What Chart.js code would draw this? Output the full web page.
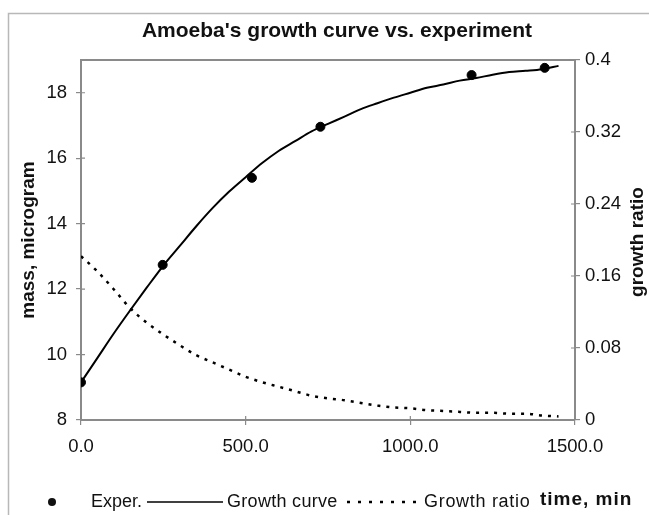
<!DOCTYPE html>
<html>
<head>
<meta charset="utf-8">
<title>Amoeba's growth curve vs. experiment</title>
<script src="https://cdn.jsdelivr.net/npm/chart.js@4.4.1/dist/chart.umd.min.js"></script>
<style>
  html, body { margin: 0; padding: 0; background: #fff; overflow: hidden; }
  #chart { display: block; }
</style>
</head>
<body>
<canvas id="chart" width="649" height="515"></canvas>
<script>
// experimental points (time, min / mass, microgram)
const expTime = [0, 248, 519, 727, 1186, 1408];
const expMass = [9.15, 12.74, 15.4, 16.96, 18.54, 18.76];

// model, read every 50 min
const modelTime = [0, 50, 100, 150, 200, 250, 300, 350, 400, 450, 500, 550, 600, 650, 700,
    750, 800, 850, 900, 950, 1000, 1050, 1100, 1150, 1200, 1250, 1300, 1350, 1400, 1450];
const growthCurve = [9.15, 9.9, 10.65, 11.36, 12.05, 12.72, 13.32, 13.92, 14.48, 14.98, 15.42,
    15.85, 16.22, 16.52, 16.82, 17.05, 17.27, 17.5, 17.68, 17.85, 18.0, 18.15, 18.25, 18.37,
    18.45, 18.55, 18.63, 18.67, 18.72, 18.82];
const growthRatio = [0.182, 0.165, 0.145, 0.124, 0.108, 0.095, 0.083, 0.072, 0.064, 0.056,
    0.048, 0.042, 0.037, 0.032, 0.027, 0.024, 0.022, 0.019, 0.016, 0.014, 0.013, 0.011, 0.010,
    0.009, 0.008, 0.008, 0.007, 0.007, 0.005, 0.004];

// tick labels
const timeTicks = [0, 500, 1000, 1500];
const massTicks = [8, 10, 12, 14, 16, 18];
const ratioTicks = [0, 0.08, 0.16, 0.24, 0.32, 0.4];

const FONT = '"Liberation Sans", Arial, sans-serif';
const axisColor = '#8a8a8a';
const textColor = '#111';
const ratioDash = [3, 6];

function toPoints(xs, ys) {
    return xs.map((x, i) => ({ x: x, y: ys[i] }));
}

// title, plot frame, inner tick halves, right axis title, legend and the x title
const decor = {
    id: 'decor',
    beforeDraw(chart) {
        const ctx = chart.ctx;
        ctx.save();
        ctx.fillStyle = '#fff';
        ctx.fillRect(0, 0, chart.width, chart.height);
        ctx.strokeStyle = '#b8b8b8';
        ctx.lineWidth = 1.5;
        ctx.strokeRect(8.5, 13.5, 700, 600);
        ctx.restore();
    },
    afterDraw(chart) {
        const ctx = chart.ctx;
        const a = chart.chartArea;
        const sc = chart.scales;
        ctx.save();

        ctx.strokeStyle = axisColor;
        ctx.lineWidth = 2;
        ctx.beginPath();
        ctx.moveTo(a.left - 1, a.top);
        ctx.lineTo(a.right + 1, a.top);
        ctx.stroke();

        ctx.lineWidth = 1.2;
        ctx.beginPath();
        massTicks.forEach(v => {
            const p = sc.y.getPixelForValue(v);
            ctx.moveTo(a.left, p); ctx.lineTo(a.left + 4, p);
        });
        ratioTicks.forEach(v => {
            const p = sc.y1.getPixelForValue(v);
            ctx.moveTo(a.right - 4, p); ctx.lineTo(a.right, p);
        });
        timeTicks.forEach(v => {
            const p = sc.x.getPixelForValue(v);
            ctx.moveTo(p, a.bottom - 4); ctx.lineTo(p, a.bottom);
        });
        ctx.stroke();

        // title
        ctx.fillStyle = textColor;
        ctx.textAlign = 'center';
        ctx.textBaseline = 'middle';
        ctx.font = 'bold 21px ' + FONT;
        ctx.fillText("Amoeba's growth curve vs. experiment", 337, 31);

        // right axis title, reading upwards like the left one
        ctx.save();
        ctx.translate(638, (a.top + a.bottom) / 2 + 2);
        ctx.rotate(-Math.PI / 2);
        ctx.font = 'bold 19px ' + FONT;
        ctx.fillText('growth ratio', 0, 0);
        ctx.restore();

        // legend
        const ds = chart.data.datasets;
        const ly = 502;
        ctx.textAlign = 'left';
        ctx.font = '18px ' + FONT;
        ctx.beginPath();
        ctx.arc(52, ly, 4, 0, Math.PI * 2);
        ctx.fill();
        ctx.fillText(ds[0].label, 91, ly);

        ctx.strokeStyle = '#000';
        ctx.lineWidth = 1.5;
        ctx.beginPath();
        ctx.moveTo(147, ly); ctx.lineTo(223, ly);
        ctx.stroke();
        ctx.letterSpacing = '0.3px';
        ctx.fillText(ds[1].label, 227, ly);

        ctx.lineWidth = 2.5;
        ctx.setLineDash([3, 8]);
        ctx.beginPath();
        ctx.moveTo(347, ly); ctx.lineTo(420, ly);
        ctx.stroke();
        ctx.setLineDash([]);
        ctx.letterSpacing = '0.7px';
        ctx.fillText(ds[2].label, 424, ly);

        ctx.letterSpacing = '1px';
        ctx.font = 'bold 19px ' + FONT;
        ctx.fillText('time, min', 540, ly - 2);
        ctx.restore();
    }
};

const tickFont = { family: FONT, size: 18.5 };

const config = {
    type: 'line',
    data: {
        datasets: [{
            label: 'Exper.',
            data: toPoints(expTime, expMass),
            yAxisID: 'y',
            showLine: false,
            pointRadius: 4.5,
            pointBackgroundColor: '#000',
            pointBorderColor: '#000',
            order: 0
        }, {
            label: 'Growth curve',
            data: toPoints(modelTime, growthCurve),
            yAxisID: 'y',
            borderColor: '#000',
            borderWidth: 2,
            pointRadius: 0,
            cubicInterpolationMode: 'monotone',
            order: 1
        }, {
            label: 'Growth ratio',
            data: toPoints(modelTime, growthRatio),
            yAxisID: 'y1',
            borderColor: '#000',
            borderWidth: 2.5,
            borderDash: ratioDash,
            pointRadius: 0,
            cubicInterpolationMode: 'monotone',
            order: 2
        }]
    },
    options: {
        responsive: false,
        animation: false,
        layout: { padding: { top: 60, left: 0, right: 0, bottom: 0 } },
        plugins: {
            legend: { display: false },
            tooltip: { enabled: false },
            title: { display: false }
        },
        scales: {
            x: {
                type: 'linear',
                min: 0,
                max: 1500,
                afterBuildTicks: s => { s.ticks = timeTicks.map(v => ({ value: v })); },
                afterFit: s => { s.height = 95; },
                border: { color: axisColor, width: 2 },
                grid: { drawOnChartArea: false, tickLength: 5, color: axisColor, lineWidth: 1.2 },
                ticks: {
                    color: textColor,
                    font: tickFont,
                    padding: 11,
                    maxRotation: 0,
                    callback: v => Number(v).toFixed(1)
                }
            },
            y: {
                position: 'left',
                min: 8,
                max: 19,
                afterBuildTicks: s => { s.ticks = massTicks.map(v => ({ value: v })); },
                afterFit: s => { s.width = 81; },
                border: { color: axisColor, width: 2 },
                grid: { drawOnChartArea: false, tickLength: 5, color: axisColor, lineWidth: 1.2 },
                ticks: {
                    color: textColor,
                    font: tickFont,
                    padding: 9
                },
                title: {
                    display: true,
                    text: 'mass, microgram',
                    color: textColor,
                    font: { family: FONT, size: 19, weight: 'bold' },
                    padding: { top: 17, bottom: 0 }
                }
            },
            y1: {
                position: 'right',
                min: 0,
                max: 0.4,
                afterBuildTicks: s => { s.ticks = ratioTicks.map(v => ({ value: v })); },
                afterFit: s => { s.width = 74; },
                border: { color: axisColor, width: 2 },
                grid: { drawOnChartArea: false, tickLength: 5, color: axisColor, lineWidth: 1.2 },
                ticks: {
                    color: textColor,
                    font: tickFont,
                    padding: 5,
                    callback: v => String(v)
                }
            }
        }
    },
    plugins: [decor]
};

new Chart(document.getElementById('chart'), config);
</script>
</body>
</html>
